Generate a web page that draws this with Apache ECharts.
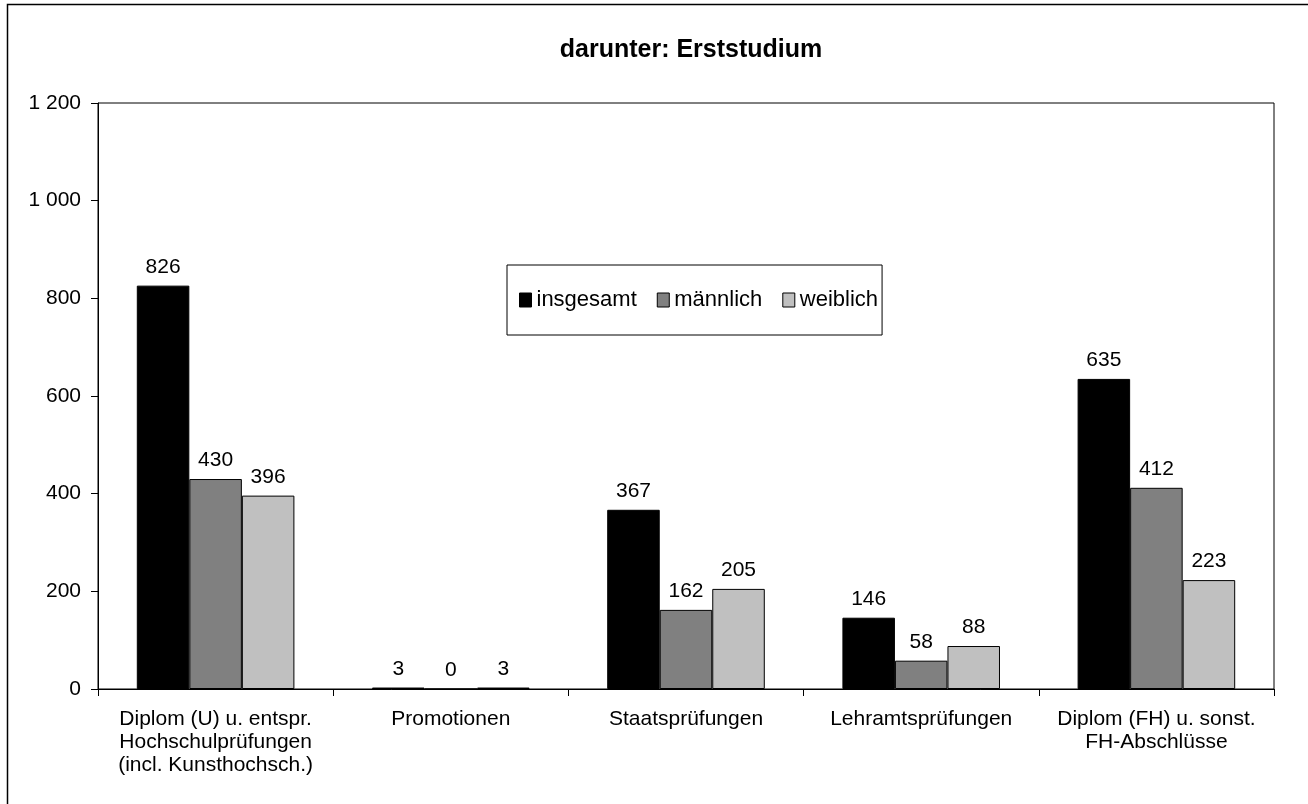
<!DOCTYPE html>
<html><head><meta charset="utf-8">
<script src="https://cdn.jsdelivr.net/npm/echarts@6/dist/echarts.min.js"></script>
<style>html,body{margin:0;padding:0;background:#fff}#c{width:1308px;height:804px}</style>
</head><body><div id="c"></div>
<script>
const categories = ['Diplom (U) u. entspr.\nHochschulprüfungen\n(incl. Kunsthochsch.)','Promotionen','Staatsprüfungen','Lehramtsprüfungen','Diplom (FH) u. sonst.\nFH-Abschlüsse'];
const insgesamt = [826, 3, 367, 146, 635];
const maennlich = [430, 0, 162, 58, 412];
const weiblich = [396, 3, 205, 88, 223];
const yTicks = [0, 200, 400, 600, 800, 1000, 1200];

const chart = echarts.init(document.getElementById('c'), null, {renderer:'canvas'});
const F = 'Liberation Sans, Arial, sans-serif';
function mk(name, data, color){
  return {name, type:'bar', data, barGap:'0%', barCategoryGap:'33%',
    itemStyle:{color, borderColor:'#000', borderWidth:1},
    label:{show:true, position:'top', distance:8, color:'#000', fontFamily:F, fontSize:21},
    emphasis:{disabled:true}};
}
chart.setOption({
  animation:false,
  textStyle:{fontFamily:F},
  title:{text:'darunter: Erststudium', left:686, textAlign:'center', top:33, textStyle:{fontFamily:F, fontSize:25, fontWeight:'bold', color:'#000'}},
  legend:{left:507, top:265, padding:[24,4,24,12], itemGap:20, itemWidth:12, itemHeight:14,
    borderColor:'#000', borderWidth:1, icon:'rect',
    textStyle:{fontFamily:F, fontSize:22, color:'#000'},
    data:[{name:'insgesamt', itemStyle:{borderColor:'#000',borderWidth:1}},{name:'männlich',itemStyle:{borderColor:'#000',borderWidth:1}},{name:'weiblich',itemStyle:{borderColor:'#000',borderWidth:1}}]},
  grid:{left:98, right:34, top:103, bottom:115, show:true, borderColor:'#000', borderWidth:1, containLabel:false},
  xAxis:{type:'category', data:categories,
    axisLine:{lineStyle:{color:'#000'}}, axisTick:{show:true, length:7, inside:false, lineStyle:{color:'#000'}},
    axisLabel:{color:'#000', fontFamily:F, fontSize:21, lineHeight:23, margin:19, interval:0}},
  yAxis:{type:'value', min:0, max:1200, interval:200,
    axisLine:{show:true, lineStyle:{color:'#000'}}, axisTick:{show:true, length:7, lineStyle:{color:'#000'}},
    splitLine:{show:false},
    axisLabel:{color:'#000', fontFamily:F, fontSize:21, margin:17, formatter:v=>v>=1000?String(v).replace(/(\d)(\d{3})$/,'$1 $2'):String(v)}},
  series:[mk('insgesamt', insgesamt, '#000000'), mk('männlich', maennlich, '#808080'), mk('weiblich', weiblich, '#c0c0c0')],
  graphic:[{type:'rect', shape:{x:7.5, y:4.5, width:1320, height:830}, style:{fill:'none', stroke:'#000', lineWidth:1.5}, silent:true}]
});
</script></body></html>
